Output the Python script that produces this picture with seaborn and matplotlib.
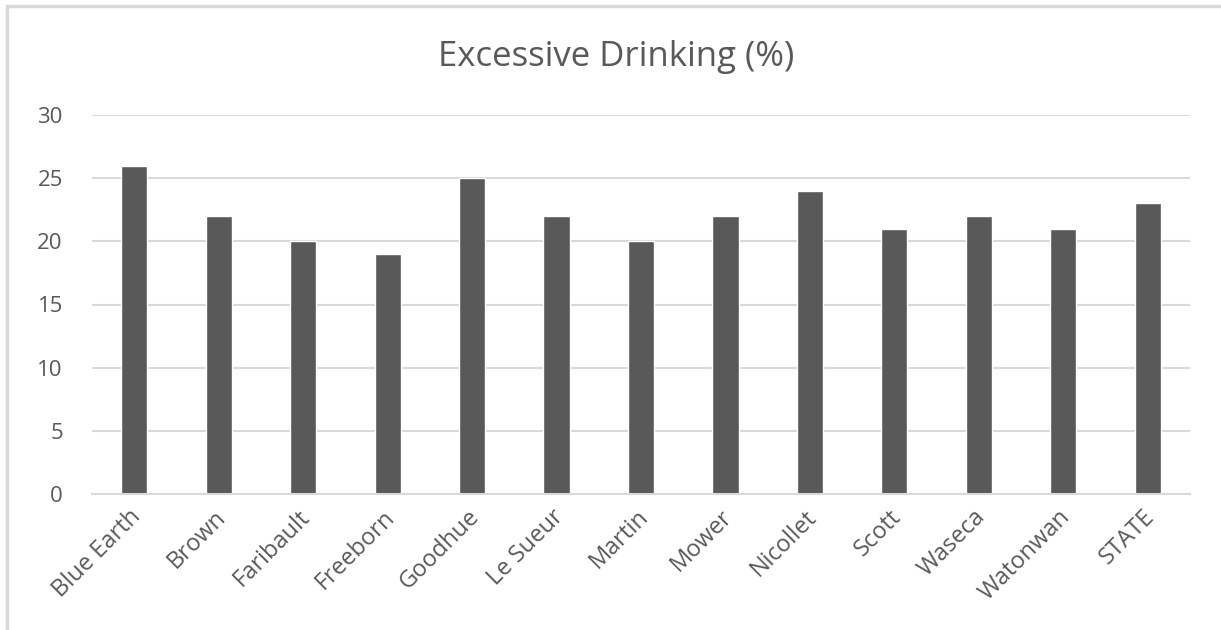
import matplotlib
matplotlib.use("Agg")
import matplotlib.pyplot as plt
import matplotlib.transforms as mtrans
import seaborn as sns
import pandas as pd
from matplotlib.patches import Rectangle

counties = ["Blue Earth", "Brown", "Faribault", "Freeborn", "Goodhue", "Le Sueur",
            "Martin", "Mower", "Nicollet", "Scott", "Waseca", "Watonwan", "STATE"]
excessive_drinking = [26, 22, 20, 19, 25, 22, 20, 22, 24, 21, 22, 21, 23]
yticks = [0, 5, 10, 15, 20, 25, 30]
title = "Excessive Drinking (%)"

df = pd.DataFrame({"county": counties, "value": excessive_drinking})

sns.set_theme(style="white")
plt.rcParams["font.family"] = ["Open Sans", "DejaVu Sans"]

W, H = 1221, 630
fig = plt.figure(figsize=(W / 100, H / 100), dpi=100)
fig.patch.set_facecolor("white")
ax = fig.add_axes([92 / W, 1 - 494 / H, (1190 - 92) / W, (494 - 115) / H])

sns.barplot(data=df, x="county", y="value", color="#595959", saturation=1,
            width=0.31, ax=ax, zorder=3)

ax.set_ylim(0, 30)
ax.set_xlim(-0.5, len(counties) - 0.5)
ax.set_yticks(yticks)
ax.set_yticklabels([str(t) for t in yticks])
ax.grid(axis="y", color="#d9d9d9", linewidth=1.5, zorder=0)
ax.grid(axis="x", visible=False)
for s in ["top", "right", "left"]:
    ax.spines[s].set_visible(False)
ax.spines["bottom"].set_color("#d9d9d9")
ax.spines["bottom"].set_linewidth(1.5)
ax.spines["bottom"].set_zorder(4)
ax.set_xlabel("")
ax.set_ylabel("")
ax.tick_params(axis="y", length=0, pad=21, labelsize=16, labelcolor="#595959")
ax.tick_params(axis="x", length=0, pad=8, labelsize=17, labelcolor="#595959")
offset = mtrans.ScaledTranslation(-5 / 100, 0, fig.dpi_scale_trans)
for lbl in ax.get_xticklabels():
    lbl.set_rotation(45)
    lbl.set_ha("right")
    lbl.set_rotation_mode("anchor")
    lbl.set_transform(lbl.get_transform() + offset)

fig.text(616 / W, 1 - 57 / H, title, ha="center", va="center", fontsize=25, color="#595959")

fig.patches.append(Rectangle((7 / W, -0.2), 2, (H - 6) / H + 0.2, transform=fig.transFigure,
                             fill=False, edgecolor="#d9d9d9", linewidth=2.5, clip_on=False))

fig.savefig("out.png", dpi=100)
